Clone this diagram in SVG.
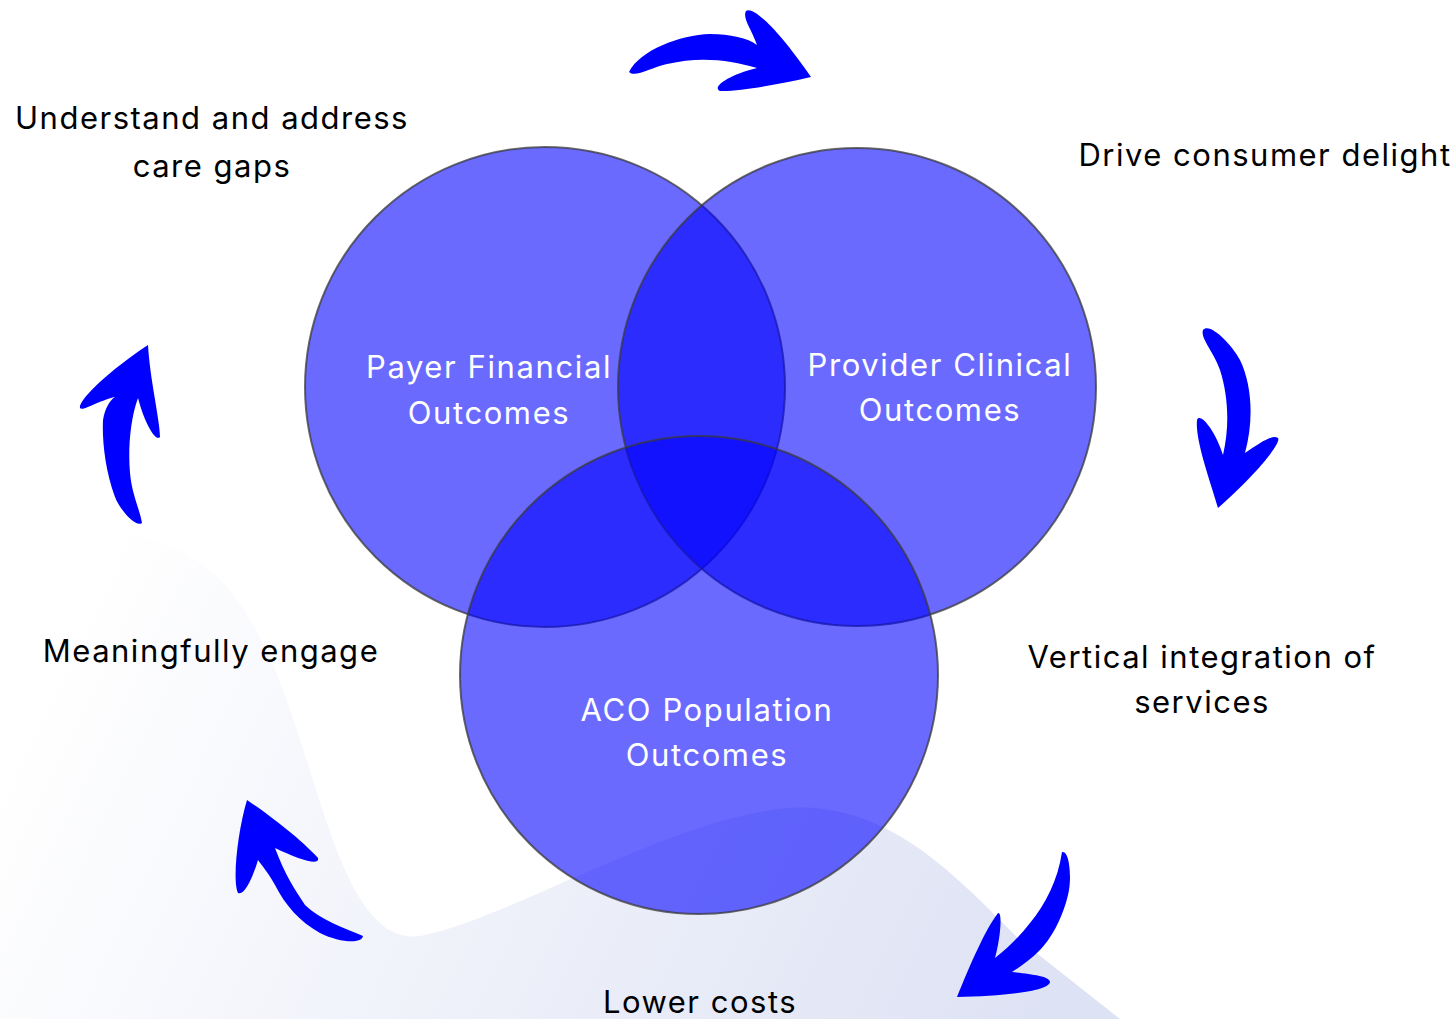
<svg xmlns="http://www.w3.org/2000/svg" width="1455" height="1019" viewBox="0 0 1455 1019">
<style>
.lbl{font-family:Inter,"Noto Sans","Liberation Sans",sans-serif;font-size:31px;letter-spacing:1.5px;fill:#000;text-anchor:middle}
.in{font-family:Inter,"Noto Sans","Liberation Sans",sans-serif;font-size:31px;letter-spacing:1.6px;fill:#fff;text-anchor:middle}
.c{fill:#0000ff;fill-opacity:0.585;stroke:#3a3a3a;stroke-opacity:0.75;stroke-width:2}
.arr{fill:#0000ff}
</style>
<defs>
<linearGradient id="bg" gradientUnits="userSpaceOnUse" x1="100" y1="560" x2="1050" y2="1019">
<stop offset="0" stop-color="#ffffff"/>
<stop offset="1" stop-color="#dde2f4"/>
</linearGradient>
</defs>
<rect width="1455" height="1019" fill="#fff"/>
<path d="M0,560 C60,530 150,515 215,575 C285,640 305,780 345,870 C370,925 395,942 425,935 C520,915 700,800 815,808 C900,815 960,880 1020,940 L1120,1019 L0,1019 Z" fill="url(#bg)"/>
<g id="circle-payer"><circle class="c" cx="545" cy="387" r="240"/></g>
<g id="circle-provider"><circle class="c" cx="857" cy="387" r="239"/></g>
<g id="circle-aco"><circle class="c" cx="699" cy="675" r="239"/></g>
<g id="label-payer"><text class="in" x="489" y="378">Payer Financial</text><text class="in" x="489" y="424">Outcomes</text></g>
<g id="label-provider"><text class="in" x="940" y="376">Provider Clinical</text><text class="in" x="940" y="421">Outcomes</text></g>
<g id="label-aco"><text class="in" x="707" y="721">ACO Population</text><text class="in" x="707" y="766">Outcomes</text></g>
<g id="care-gaps"><text class="lbl" x="212" y="129">Understand and address</text><text class="lbl" x="212" y="177">care gaps</text></g>
<g id="consumer"><text class="lbl" x="1265" y="166">Drive consumer delight</text></g>
<g id="vertical"><text class="lbl" x="1202" y="668">Vertical integration of</text><text class="lbl" x="1202" y="713">services</text></g>
<g id="lower-costs"><text class="lbl" x="700" y="1013">Lower costs</text></g>
<g id="engage"><text class="lbl" x="211" y="662">Meaningfully engage</text></g>
<g id="connectors">
<path class="arr" d="M629,72 C640,50 680,35 710,34 C730,34 748,38 757,45 C752,30 742,18 746,11 C752,6 775,25 811,77 C790,82 740,92 720,91 C712,88 725,76 757,68 C730,60 700,56 667,64 C650,68 635,78 629,72 Z"/>
<path class="arr" d="M1203,330 C1210,322 1232,345 1240,360 C1252,385 1254,420 1245,453 C1258,444 1272,434 1278,438 C1282,444 1250,480 1218,508 C1210,480 1195,440 1197,420 C1200,412 1215,430 1223,455 C1230,425 1228,395 1220,370 C1214,352 1200,338 1203,330 Z"/>
<path class="arr" d="M148,345 C150,380 160,420 160,437 C156,442 145,425 138,398 C130,420 128,450 130,473 C132,495 140,510 142,523 C136,528 120,510 115,497 C105,470 102,440 103,420 C105,408 110,400 115,397 C100,400 82,412 80,408 C78,400 110,370 148,345 Z"/>
<path class="arr" d="M247,800 C265,812 300,838 318,858 C320,866 300,860 275,848 C285,875 295,890 305,905 C320,920 345,928 363,936 C362,944 340,943 320,933 C300,922 285,905 275,885 C268,872 262,866 258,860 C252,880 244,896 238,893 C232,880 238,830 247,800 Z"/>
<path class="arr" d="M1062,852 C1070,850 1072,880 1068,895 C1062,920 1050,940 1040,950 C1030,960 1020,967 1012,972 C1030,974 1050,976 1050,982 C1048,992 1000,996 957,997 C970,965 985,930 998,913 C1003,912 1000,940 995,958 C1008,948 1020,936 1030,923 C1045,905 1058,880 1062,852 Z"/>
</g>
</svg>
